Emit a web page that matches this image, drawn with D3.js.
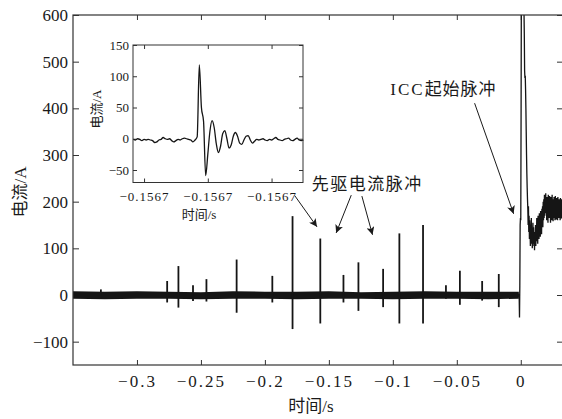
<!DOCTYPE html>
<html>
<head>
<meta charset="utf-8">
<title>ICC current</title>
<script src="https://d3js.org/d3.v7.min.js"></script>
<style>
  body { margin: 0; background: #fff; }
  svg { display: block; }
  svg text { font-family: "Liberation Serif", "Noto Sans CJK SC", serif !important; fill: #1a1a1a; }
  .axis path { display: none; }
  .axis line { stroke: #333; }
</style>
</head>
<body>
<svg id="chart" width="562" height="419"></svg>
<script>
// ---- main plot ----
var xTicks = [-0.3, -0.25, -0.2, -0.15, -0.1, -0.05, 0];
var yTicks = [-100, 0, 100, 200, 300, 400, 500, 600];

// baseline noise band before the ICC (time, upper, lower) in A
var noiseTime = [-0.35, -0.325, -0.3, -0.275, -0.25, -0.225, -0.2, -0.175, -0.15, -0.125, -0.1, -0.075, -0.05, -0.025, -0.0015];
var noiseHigh = [8, 7, 8, 7, 6, 8, 7, 7, 8, 6, 7, 8, 7, 7, 7];
var noiseLow  = [-8, -9, -8, -8, -9, -8, -8, -9, -8, -8, -9, -8, -8, -9, -8];

// precursor current pulses: time, peak, trough
var pulseTime = [-0.3282, -0.2764, -0.2676, -0.2562, -0.2457, -0.2221, -0.1942, -0.1784, -0.1567, -0.1386, -0.1269, -0.1076, -0.0949, -0.0764, -0.0585, -0.0476, -0.0302, -0.0172];
var pulseMax  = [12, 30, 62, 21, 34, 76, 41, 169, 121, 43, 70, 56, 132, 150, 21, 52, 30, 45];
var pulseMin  = [-8, -16, -27, -13, -14, -38, -16, -73, -61, -16, -34, -26, -61, -61, -8, -21, -12, -26];

// ICC onset, sampled every 0.25 ms starting at -2 ms
var iccStart = -0.002, iccStep = 0.00025;
var iccValues = [3, -4, 2, -3, -48, 20, 150, 165, 160, 400,
  720, 720, 700, 690, 680, 660, 640, 640, 610, 560,
  480, 465, 470, 440, 400, 350, 300, 260, 230, 205,
  185, 150, 190, 135, 170, 120, 160, 140, 105, 150,
  125, 165, 110, 140, 100, 130, 155, 110, 145, 105,
  130, 96, 135, 115, 150, 105, 140, 120, 165, 115,
  150, 110, 170, 130, 160, 120, 175, 135, 165, 125,
  180, 140, 175, 130, 185, 150, 190, 145, 200, 160,
  205, 165, 215, 170, 210, 175, 218, 180, 205, 160,
  210, 170, 195, 155, 215, 175, 200, 165, 212, 170,
  190, 155, 210, 168, 200, 160, 215, 175, 195, 158,
  205, 170, 210, 165, 195, 160, 212, 172, 200, 162,
  208, 168, 195, 160, 210, 175, 200, 165, 205, 170,
  190, 160, 208, 172, 196, 164, 205, 170, 195, 175];

// ---- inset (zoom of the pulse at -0.1567 s) ----
var insetTicksX = [-0.15672, -0.15669, -0.15666];
var insetTicksY = [-50, 0, 50, 100, 150];
var insetRef = -0.15672;   // offsets below are in microseconds from this
var insetStart = -5;       // first sample, µs; one sample per µs
var insetValues = [-1, -2, 0, -1, -3, -1, -2, -1, -2, -3, -6, -5, -2, -1, 2, 0, -1, 0, -3, -5,
  -3, -1, -2, 0, 1, 0, -1, -2, -5, -2, 3, 118, 50, 28, -59, -25, 12, 29, 18, -8,
  -22, -12, 8, 13, 0, -15, -10, 4, 10, 4, -7, -9, -2, 4, 5, -2, -7, -4, -1, -2,
  -1, 0, -2, -3, -1, -2, 0, 2, -1, -2, -3, -1, 0, 1, -2, -3, -1, 1, -2, -3, -2];

var svg = d3.select("#chart");
var L = 73, T = 15, R = 563, B = 365;

var x = d3.scaleLinear().domain([-0.35, 0.033]).range([L, R]);
var y = d3.scaleLinear().domain([-150, 600]).range([B, T]);

var defs = svg.append("defs");
defs.append("clipPath").attr("id", "clipMain")
  .append("rect").attr("x", L).attr("y", T).attr("width", R - L).attr("height", B - T);
defs.append("marker").attr("id", "arr")
    .attr("viewBox", "0 0 10 10").attr("refX", 10).attr("refY", 5)
    .attr("markerUnits", "userSpaceOnUse")
    .attr("markerWidth", 11).attr("markerHeight", 8).attr("orient", "auto")
  .append("path").attr("d", "M0,0L10,5L0,10L2.5,5Z").attr("fill", "#1a1a1a");

// axes with inward ticks on all four sides
var fmt = d3.format("");
svg.append("g").attr("class", "axis").attr("transform", "translate(" + L + ",0)")
  .call(d3.axisLeft(y).tickValues(yTicks).tickFormat(fmt).tickSize(-6).tickPadding(5))
  .selectAll("text").style("font-size", "17px");
svg.append("g").attr("class", "axis").attr("transform", "translate(" + R + ",0)")
  .call(d3.axisRight(y).tickValues(yTicks).tickFormat("").tickSize(-6));
svg.append("g").attr("class", "axis").attr("transform", "translate(0," + B + ")")
  .call(d3.axisBottom(x).tickValues(xTicks).tickFormat(fmt).tickSize(-5).tickPadding(10))
  .selectAll("text").style("font-size", "17px").style("letter-spacing", "2px");
svg.append("g").attr("class", "axis").attr("transform", "translate(0," + T + ")")
  .call(d3.axisTop(x).tickValues(xTicks).tickFormat("").tickSize(-5));

var plot = svg.append("g").attr("clip-path", "url(#clipMain)");

plot.append("path")
  .datum(noiseTime)
  .attr("fill", "#151515")
  .attr("d", d3.area()
    .x(function(d) { return x(d); })
    .y0(function(d, i) { return y(noiseLow[i]); })
    .y1(function(d, i) { return y(noiseHigh[i]); }));

plot.selectAll(".pulse")
  .data(pulseTime)
  .enter().append("line")
    .attr("class", "pulse")
    .attr("x1", function(d) { return x(d); })
    .attr("x2", function(d) { return x(d); })
    .attr("y1", function(d, i) { return y(pulseMax[i]); })
    .attr("y2", function(d, i) { return y(pulseMin[i]); })
    .attr("stroke", "#151515")
    .attr("stroke-width", 1.8);

plot.append("path")
  .datum(iccValues)
  .attr("fill", "none")
  .attr("stroke", "#151515")
  .attr("stroke-width", 1.3)
  .attr("d", d3.line()
    .x(function(d, i) { return x(iccStart + i * iccStep); })
    .y(function(d) { return y(d); }));

svg.append("rect").attr("x", L).attr("y", T).attr("width", R - L).attr("height", B - T)
  .attr("fill", "none").attr("stroke", "#333").attr("stroke-width", 1.2);

svg.append("text").attr("x", 311).attr("y", 412).attr("text-anchor", "middle")
  .style("font-size", "17px").text("时间/s");
svg.append("text").attr("transform", "translate(26,192) rotate(-90)").attr("text-anchor", "middle")
  .style("font-size", "17px").text("电流/A");

// annotations (anchored in data coordinates)
var arrows = [
  [-0.0361, 411, -0.0056, 174],
  [-0.1767, 213, -0.1593, 146],
  [-0.1325, 214, -0.1443, 133],
  [-0.1242, 212, -0.1159, 129]
];
svg.selectAll(".arrow")
  .data(arrows)
  .enter().append("line")
    .attr("class", "arrow")
    .attr("x1", function(d) { return x(d[0]); })
    .attr("y1", function(d) { return y(d[1]); })
    .attr("x2", function(d) { return x(d[2]); })
    .attr("y2", function(d) { return y(d[3]); })
    .attr("stroke", "#1a1a1a").attr("stroke-width", 1)
    .attr("marker-end", "url(#arr)");

var iccLabel = svg.append("text").attr("x", x(-0.102)).attr("y", y(428)).style("font-size", "17px");
iccLabel.append("tspan").style("letter-spacing", "2px").text("ICC");
iccLabel.append("tspan").style("letter-spacing", "1px").text("起始脉冲");
svg.append("text").attr("x", x(-0.1633)).attr("y", y(225)).style("font-size", "17px")
  .style("letter-spacing", "1.5px").text("先驱电流脉冲");

// ---- inset ----
var iL = 133, iT = 45, iR = 303, iB = 182.5;
var ix = d3.scaleLinear().domain([-0.1567252, -0.1566452]).range([iL, iR]);
var iy = d3.scaleLinear().domain([-70, 150]).range([iB, iT]);

svg.append("rect").attr("x", iL).attr("y", iT).attr("width", iR - iL).attr("height", iB - iT)
  .attr("fill", "#fff");

svg.append("g").attr("class", "axis").attr("transform", "translate(" + iL + ",0)")
  .call(d3.axisLeft(iy).tickValues(insetTicksY).tickFormat(fmt).tickSize(-4).tickPadding(4))
  .selectAll("text").style("font-size", "13px");
svg.append("g").attr("class", "axis").attr("transform", "translate(" + iR + ",0)")
  .call(d3.axisRight(iy).tickValues(insetTicksY).tickFormat("").tickSize(-4));
svg.append("g").attr("class", "axis").attr("transform", "translate(0," + iB + ")")
  .call(d3.axisBottom(ix).tickValues(insetTicksX).tickFormat(d3.format(".4f")).tickSize(-4).tickPadding(9))
  .selectAll("text").style("font-size", "13px").style("letter-spacing", "1px");
svg.append("g").attr("class", "axis").attr("transform", "translate(0," + iT + ")")
  .call(d3.axisTop(ix).tickValues(insetTicksX).tickFormat("").tickSize(-4));

svg.append("path")
  .datum(insetValues)
  .attr("fill", "none")
  .attr("stroke", "#151515")
  .attr("stroke-width", 1.3)
  .attr("d", d3.line()
    .curve(d3.curveMonotoneX)
    .x(function(d, i) { return ix(insetRef + (insetStart + i) * 1e-6); })
    .y(function(d) { return iy(d); }));

svg.append("rect").attr("x", iL).attr("y", iT).attr("width", iR - iL).attr("height", iB - iT)
  .attr("fill", "none").attr("stroke", "#333").attr("stroke-width", 1);

svg.append("text").attr("x", 199).attr("y", 219).attr("text-anchor", "middle")
  .style("font-size", "13px").text("时间/s");
svg.append("text").attr("transform", "translate(101,109) rotate(-90)").attr("text-anchor", "middle")
  .style("font-size", "13px").text("电流/A");
</script>
</body>
</html>
